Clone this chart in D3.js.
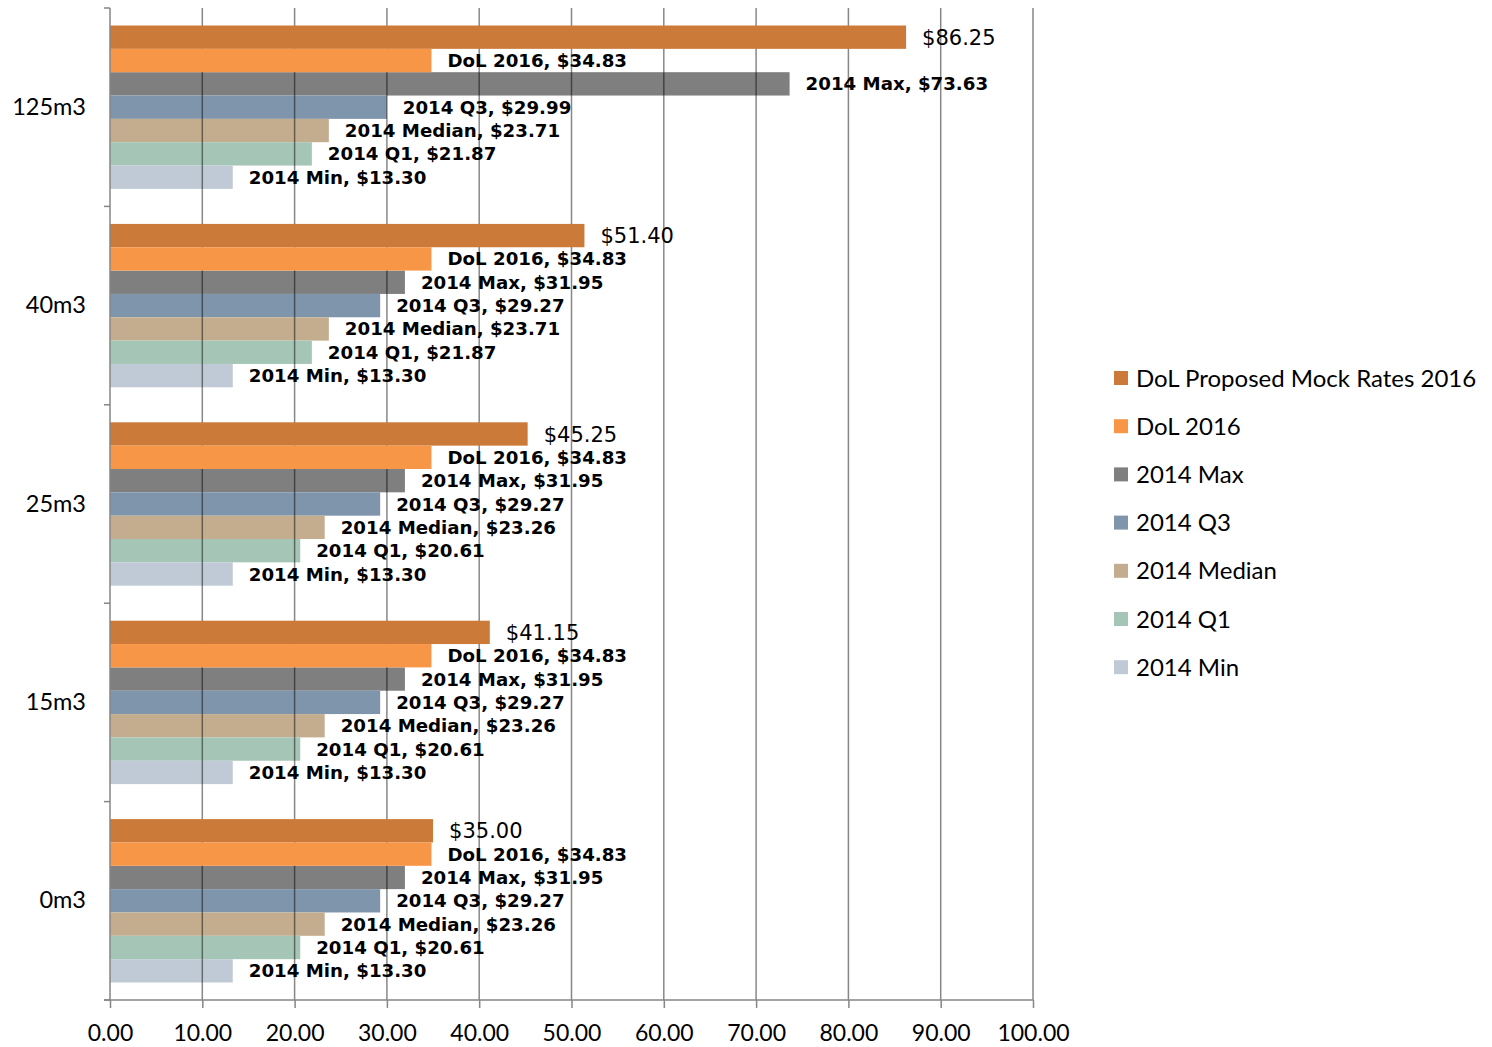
<!DOCTYPE html>
<html><head><meta charset="utf-8">
<script src="https://cdn.jsdelivr.net/npm/d3@7"></script>
<style>body{margin:0;background:#fff}</style>
</head><body>
<svg id="c" width="1492" height="1047"></svg>
<script>
const categories = ["125m3","40m3","25m3","15m3","0m3"];
const seriesNames = ["DoL Proposed Mock Rates 2016","DoL 2016","2014 Max","2014 Q3","2014 Median","2014 Q1","2014 Min"];
const proposed2016 = [86.25, 51.40, 45.25, 41.15, 35.00];
const dol2016 = [34.83, 34.83, 34.83, 34.83, 34.83];
const max2014 = [73.63, 31.95, 31.95, 31.95, 31.95];
const q3_2014 = [29.99, 29.27, 29.27, 29.27, 29.27];
const median2014 = [23.71, 23.71, 23.26, 23.26, 23.26];
const q1_2014 = [21.87, 21.87, 20.61, 20.61, 20.61];
const min2014 = [13.30, 13.30, 13.30, 13.30, 13.30];
const xTicks = [0,10,20,30,40,50,60,70,80,90,100];
const colors = ["#CC7A3A","#F79646","#7F7F7F","#7F95AC","#C4AD8F","#A5C6B6","#C0CAD6"];

const seriesValues = [proposed2016, dol2016, max2014, q3_2014, median2014, q1_2014, min2014];

const svg = d3.select("#c");
const pL = 110, pR = 1033, pT = 8, pB = 1000;
const x = d3.scaleLinear().domain([0,100]).range([pL,pR]);
const y0 = d3.scaleBand().domain(categories).range([pT,pB]).padding(0);
const y1 = d3.scaleBand().domain(seriesNames).range([0,y0.bandwidth()]).paddingInner(0).paddingOuter(0.75);

const data = [];
seriesValues.forEach((vals,si)=>{
  vals.forEach((v,ci)=>data.push({s:seriesNames[si], si, c:categories[ci], v}));
});

const gridColor = "#868686";
// non-orange bars
svg.append("g").selectAll("rect").data(data.filter(d=>d.si>=2)).join("rect")
  .attr("x",x(0)).attr("y",d=>y0(d.c)+y1(d.s))
  .attr("width",d=>x(d.v)-x(0)).attr("height",y1.bandwidth())
  .attr("fill",d=>colors[d.si]);

// labels
svg.append("g").selectAll("text").data(data).join("text")
  .attr("x",d=>x(d.v)+16)
  .attr("y",d=>y0(d.c)+y1(d.s)+y1.bandwidth()/2)
  .attr("dy","0.36em")
  .attr("font-family", "DejaVu Sans, Tahoma, sans-serif")
  .attr("font-weight", d=>d.si===0?"normal":"bold")
  .attr("font-size", d=>d.si===0?"21px":"18.2px")
  .attr("fill","#000")
  .text(d=>d.si===0 ? "$"+d.v.toFixed(2) : d.s+", $"+d.v.toFixed(2));

// gridlines on top
svg.append("g").selectAll("line").data(xTicks.slice(1)).join("line")
  .attr("x1",d=>x(d)).attr("x2",d=>x(d)).attr("y1",pT).attr("y2",pB)
  .attr("stroke","#000").attr("stroke-opacity",0.47).attr("stroke-width",1.5);

// orange bars over gridlines
svg.append("g").selectAll("rect").data(data.filter(d=>d.si<2)).join("rect")
  .attr("x",x(0)).attr("y",d=>y0(d.c)+y1(d.s))
  .attr("width",d=>x(d.v)-x(0)).attr("height",y1.bandwidth())
  .attr("fill",d=>colors[d.si]);

// axes
const xAxis = d3.axisBottom(x).tickValues(xTicks).tickFormat(d=>d.toFixed(2)).tickSize(8).tickPadding(17);
const xg = svg.append("g").attr("transform",`translate(0,${pB})`).call(xAxis);
xg.select(".domain").remove();
xg.append("line").attr("x1",pL-6).attr("x2",pR).attr("y1",0).attr("y2",0).attr("stroke",gridColor).attr("stroke-width",1.5);
xg.selectAll(".tick line").attr("stroke",gridColor).attr("stroke-width",1.5);
xg.selectAll(".tick text").attr("font-family","Lato, sans-serif").attr("font-size","23px").attr("fill","#000");

const yAxis = d3.axisLeft(y0).tickSize(0).tickPadding(24);
const yg = svg.append("g").attr("transform",`translate(${pL},0)`).call(yAxis);
yg.select(".domain").remove();
yg.append("line").attr("x1",0).attr("x2",0).attr("y1",pT).attr("y2",pB).attr("stroke",gridColor).attr("stroke-width",1.5);
yg.selectAll(".tick text").attr("font-family","Lato, sans-serif").attr("font-size","23.5px").attr("fill","#000");
const bounds = categories.map(c=>y0(c)).concat([pB]);
yg.selectAll("line.bt").data(bounds).join("line").attr("class","bt")
  .attr("x1",-6).attr("x2",0).attr("y1",d=>d).attr("y2",d=>d)
  .attr("stroke",gridColor).attr("stroke-width",1.5);

// legend
const leg = svg.append("g").attr("transform","translate(1114,378)");
const li = leg.selectAll("g").data(seriesNames).join("g")
  .attr("transform",(d,i)=>`translate(0,${i*48.2})`);
li.append("rect").attr("x",0).attr("y",-7).attr("width",14).attr("height",14).attr("fill",(d,i)=>colors[i]);
li.append("text").attr("x",22).attr("y",0).attr("dy","0.36em")
  .attr("font-family","Lato, sans-serif").attr("font-size","24px").attr("fill","#000").text(d=>d);
</script>
</body></html>
